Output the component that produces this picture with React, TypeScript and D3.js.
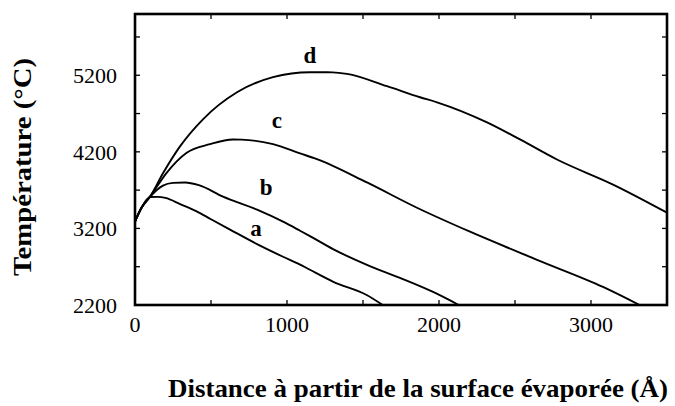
import React from "react";
import * as d3 from "d3";

// Temperature profiles (distance in Å, temperature in °C)
const curveA: [number, number][] = [
  [0, 3290], [40, 3460], [100, 3610], [150, 3612], [200, 3598], [300, 3515],
  [406, 3423], [500, 3320], [625, 3185], [803, 2995], [974, 2830], [1086, 2728],
  [1151, 2660], [1305, 2503], [1524, 2331], [1630, 2200],
];
const curveB: [number, number][] = [
  [0, 3290], [40, 3460], [100, 3615], [184, 3760], [250, 3795], [330, 3800],
  [420, 3765], [579, 3615], [803, 3445], [974, 3288], [1086, 3170], [1151, 3100],
  [1303, 2930], [1526, 2724], [1743, 2554], [1961, 2370], [2130, 2200],
];
const curveC: [number, number][] = [
  [0, 3290], [40, 3460], [100, 3618], [208, 3926], [340, 4188], [493, 4300],
  [645, 4362], [700, 4360], [908, 4300], [1086, 4180], [1197, 4105], [1526, 3800],
  [1855, 3470], [2204, 3157], [2645, 2790], [3079, 2436], [3320, 2200],
];
const curveD: [number, number][] = [
  [0, 3290], [40, 3460], [100, 3618], [186, 3926], [296, 4271], [447, 4625],
  [671, 4978], [908, 5175], [1151, 5240], [1300, 5238], [1395, 5218], [1658, 5057],
  [1875, 4913], [1987, 4847], [2316, 4585], [2533, 4362], [2776, 4100],
  [3145, 3773], [3500, 3406],
];
const curveNames = ["a", "b", "c", "d"];
const curveLabelAt: [number, number][] = [
  [796, 3101], [862, 3636], [934, 4511], [1151, 5360],
];

const xMajorTicks = [0, 1000, 2000, 3000];
const xMinorTicks = [500, 1000, 1500, 2000, 2500, 3000];
const yMajorTicks = [2200, 3200, 4200, 5200];
const yMinorTicks = [2700, 3200, 3700, 4200, 4700, 5200, 5700];

const xTitle = "Distance à partir de la surface évaporée (Å)";
const yTitle = "Température (°C)";

const W = 675;
const H = 406;
const left = 135;
const right = 667;
const top = 14;
const bottom = 305;

export default function App() {
  const x = d3.scaleLinear().domain([0, 3500]).range([left, right]);
  const y = d3.scaleLinear().domain([2200, 6000]).range([bottom, top]);
  const line = d3
    .line<[number, number]>()
    .x((d) => x(d[0]))
    .y((d) => y(d[1]))
    .curve(d3.curveMonotoneX);
  const curves = [curveA, curveB, curveC, curveD];
  const serif = "'Liberation Serif', 'Times New Roman', serif";
  const tick = 5;

  return (
    <svg
      width={W}
      height={H}
      style={{ position: "absolute", left: 0, top: 0, background: "#fff" }}
      fontFamily={serif}
    >
      <rect width={W} height={H} fill="#fff" />
      <defs>
        <clipPath id="plot">
          <rect x={left} y={top} width={right - left} height={bottom - top} />
        </clipPath>
      </defs>

      <g clipPath="url(#plot)">
        {curves.map((c, i) => (
          <path
            key={i}
            d={line(c) ?? ""}
            fill="none"
            stroke="#000"
            strokeWidth={1.9}
            strokeLinejoin="round"
          />
        ))}
      </g>

      {/* inward ticks on all four sides */}
      {xMinorTicks.map((t) => (
        <g key={"xt" + t} stroke="#000" strokeWidth={1.3}>
          <line x1={x(t)} x2={x(t)} y1={bottom} y2={bottom - tick} />
          <line x1={x(t)} x2={x(t)} y1={top} y2={top + tick} />
        </g>
      ))}
      {yMinorTicks.map((t) => (
        <g key={"yt" + t} stroke="#000" strokeWidth={1.3}>
          <line x1={left} x2={left + tick} y1={y(t)} y2={y(t)} />
          <line x1={right} x2={right - tick} y1={y(t)} y2={y(t)} />
        </g>
      ))}

      <rect
        x={left}
        y={top}
        width={right - left}
        height={bottom - top}
        fill="none"
        stroke="#000"
        strokeWidth={2.6}
      />

      {xMajorTicks.map((t) => (
        <text key={"xl" + t} x={x(t)} y={332} textAnchor="middle" fontSize={22} fill="#000">
          {t}
        </text>
      ))}
      {yMajorTicks.map((t) => (
        <text
          key={"yl" + t}
          x={117}
          y={y(t)}
          dy="0.35em"
          textAnchor="end"
          fontSize={22}
          fill="#000"
        >
          {t}
        </text>
      ))}

      {curveNames.map((n, i) => (
        <text
          key={n}
          x={x(curveLabelAt[i][0])}
          y={y(curveLabelAt[i][1])}
          textAnchor="middle"
          fontSize={23}
          fontWeight="bold"
          fill="#000"
        >
          {n}
        </text>
      ))}

      <text
        x={168}
        y={397}
        fontSize={25}
        fontWeight="bold"
        textLength={500}
        lengthAdjust="spacingAndGlyphs"
        fill="#000"
      >
        {xTitle}
      </text>
      <text
        transform="translate(31,167) rotate(-90)"
        textAnchor="middle"
        fontSize={25}
        fontWeight="bold"
        textLength={218}
        lengthAdjust="spacingAndGlyphs"
        fill="#000"
      >
        {yTitle}
      </text>
    </svg>
  );
}
